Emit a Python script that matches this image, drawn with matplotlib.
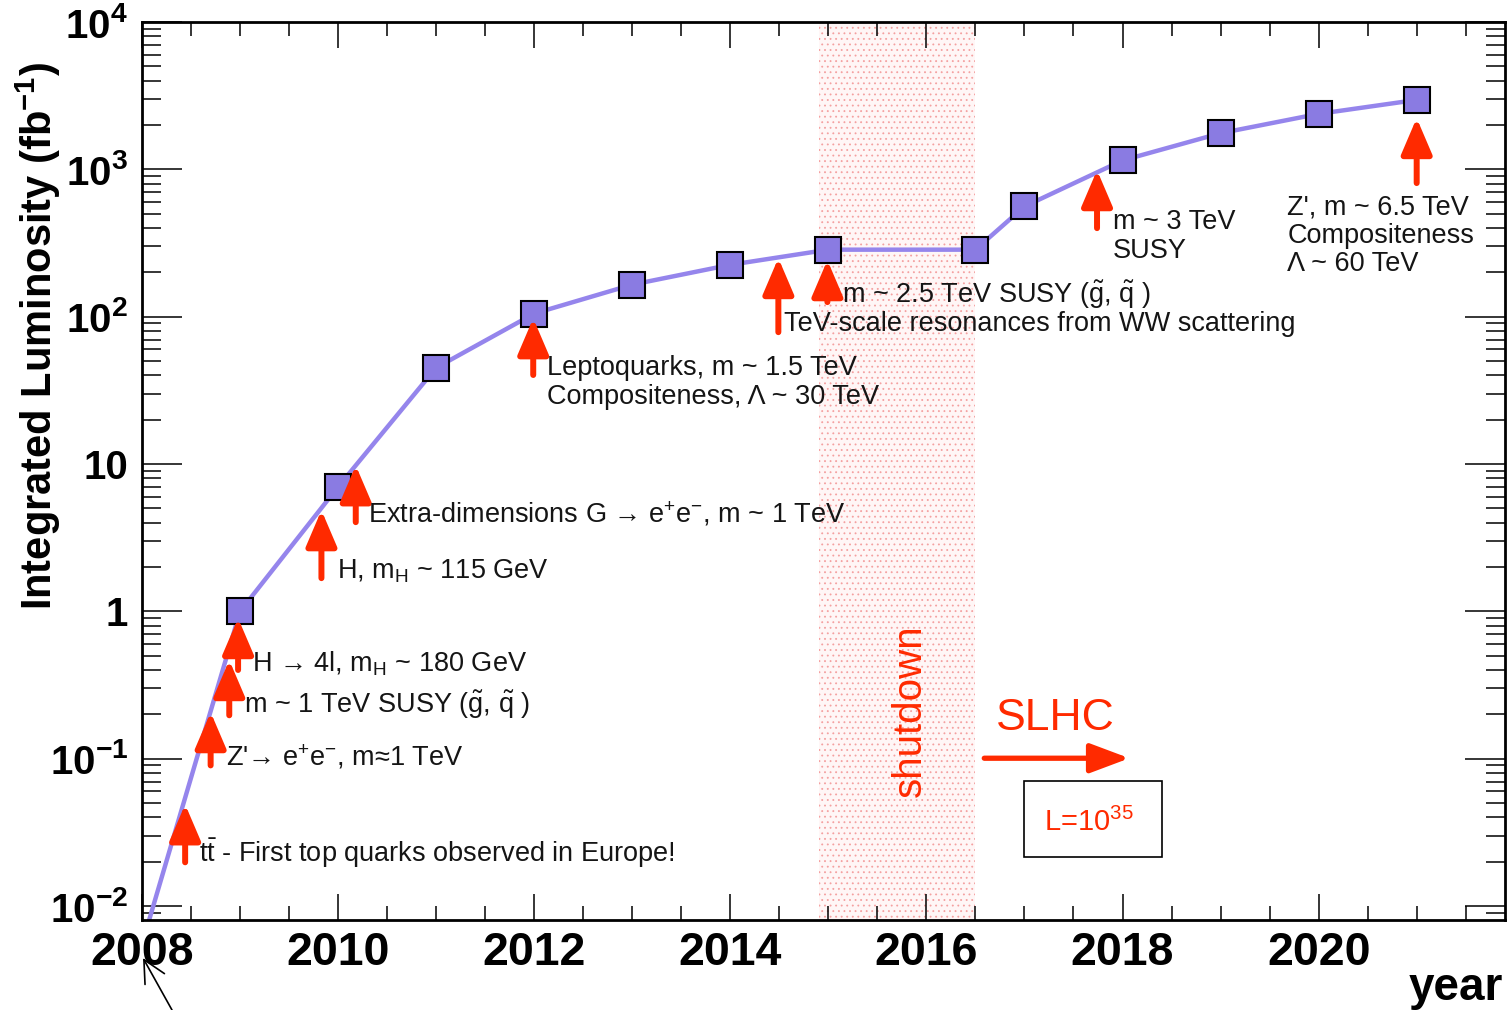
import numpy as np
import matplotlib
matplotlib.use("Agg")
import matplotlib.pyplot as plt
from matplotlib.patches import Rectangle
from matplotlib.ticker import MultipleLocator, LogLocator, NullFormatter

plt.rcParams['font.family'] = ['Liberation Sans', 'DejaVu Sans']
plt.rcParams['mathtext.fontset'] = 'custom'
plt.rcParams['mathtext.rm'] = 'Liberation Sans'
plt.rcParams['mathtext.it'] = 'Liberation Sans:italic'
plt.rcParams['mathtext.bf'] = 'Liberation Sans:bold'
plt.rcParams['mathtext.default'] = 'rm'
plt.rcParams['hatch.linewidth'] = 0.6
plt.rcParams['hatch.color'] = '#f4a0a0'

# luminosity projection
years = [2008.0, 2009, 2010, 2011, 2012, 2013, 2014, 2015, 2016.5, 2017, 2018, 2019, 2020, 2021]
lumi = [0.0055, 1.0, 7.0, 45, 105, 165, 225, 285, 285, 560, 1150, 1760, 2380, 2960]
has_marker = [False] + [True] * 13

shutdown = (2014.9, 2016.5)

# red arrows: x position, tip value, tail value
arrow_x = [2008.44, 2008.70, 2008.89, 2008.98, 2009.83, 2010.18, 2011.99, 2014.49, 2014.99, 2017.74, 2021.0]
arrow_tip = [0.049, 0.207, 0.467, 0.90, 4.86, 9.8, 97.6, 250, 242, 988, 2230]
arrow_tail = [0.0198, 0.090, 0.197, 0.40, 1.68, 4.03, 40.2, 78.5, 125.6, 399, 807]

# physics reach labels: x, baseline value, text
note_x = [2008.58, 2008.86, 2009.04, 2009.12, 2009.99, 2010.31,
          2012.13, 2012.13, 2014.55, 2015.14, 2017.90, 2017.90,
          2019.68, 2019.68, 2019.68]
note_y = [0.0198, 0.0904, 0.2036, 0.393, 1.68, 4.03,
          40.2, 25.5, 79.8, 123.6, 393, 250,
          490, 316, 204]
note_text = [
    r't$\bar{\mathrm{t}}$ - First top quarks observed in Europe!',
    r"Z'→ e$^{+}$e$^{-}$, m≈1 TeV",
    r'm ~ 1 TeV SUSY ($\tilde{\mathrm{g}}$, $\tilde{\mathrm{q}}$ )',
    r'H → 4l, m$_{\mathrm{H}}$ ~ 180 GeV',
    r'H, m$_{\mathrm{H}}$ ~ 115 GeV',
    r'Extra-dimensions G → e$^{+}$e$^{-}$, m ~ 1 TeV',
    'Leptoquarks, m ~ 1.5 TeV',
    'Compositeness, Λ ~ 30 TeV',
    'TeV-scale resonances from WW scattering',
    r'm ~ 2.5 TeV SUSY ($\tilde{\mathrm{g}}$, $\tilde{\mathrm{q}}$ )',
    'm ~ 3 TeV',
    'SUSY',
    "Z', m ~ 6.5 TeV",
    'Compositeness',
    'Λ ~ 60 TeV',
]

ytick_vals = [1e-2, 1e-1, 1, 10, 1e2, 1e3, 1e4]
ytick_labels = [r'$\mathbf{10^{-2}}$', r'$\mathbf{10^{-1}}$', '1', '10',
                r'$\mathbf{10^{2}}$', r'$\mathbf{10^{3}}$', r'$\mathbf{10^{4}}$']
xtick_vals = [2008, 2010, 2012, 2014, 2016, 2018, 2020]

red = '#ff2a00'
line_col = '#9585ec'
face_col = '#8a7be2'

fig = plt.figure(figsize=(15.09, 10.10), dpi=100)
ax = fig.add_axes([0.0941, 0.0891, 0.9032, 0.8891])
ax.set_yscale('log')
ax.set_xlim(2008, 2021.9)
ax.set_ylim(10 ** -2.095, 1e4)

ax.axvspan(shutdown[0], shutdown[1], facecolor='#fff6f6', edgecolor='#f4a0a0',
           hatch='...', linewidth=0, zorder=0)

ax.plot(years, lumi, color=line_col, lw=3.2, zorder=2)
mx = [x for x, m in zip(years, has_marker) if m]
my = [y for y, m in zip(lumi, has_marker) if m]
ax.plot(mx, my, 's', ms=18.5, mfc=face_col, mec='black', mew=1.5, zorder=3)

for x, tip, tail in zip(arrow_x, arrow_tip, arrow_tail):
    ax.annotate('', xy=(x, tip), xytext=(x, tail),
                arrowprops=dict(arrowstyle='-|>,head_length=1.1,head_width=0.47',
                                color=red, lw=4.3, shrinkA=0, shrinkB=0,
                                mutation_scale=20), zorder=4)

for x, y, t in zip(note_x, note_y, note_text):
    ax.text(x, y, t, fontsize=19.5, color='#151515', va='baseline', ha='left', zorder=5)

ax.text(2015.83, 0.213, 'shutdown', rotation=90, color=red, fontsize=29,
        ha='center', va='center', zorder=5)
ax.text(2017.31, 0.188, 'SLHC', color=red, fontsize=32, ha='center', va='center')
ax.annotate('', xy=(2018.07, 0.1007), xytext=(2016.59, 0.1007),
            arrowprops=dict(arrowstyle='-|>,head_length=1.2,head_width=0.45',
                            color=red, lw=3.8, shrinkA=0, shrinkB=0,
                            mutation_scale=20))

ax.add_patch(Rectangle((2017.0, 0.0214), 1.4, 0.0703 - 0.0214, facecolor='none',
                       edgecolor='black', lw=1.2, zorder=5))
ax.text(2017.66, 0.037, r'L=10$^{35}$', color=red, fontsize=21,
        ha='center', va='center', zorder=6)

# axes styling, ROOT like
for s in ax.spines.values():
    s.set_linewidth(2)
ax.set_xticks(xtick_vals)
ax.set_xticklabels([str(v) for v in xtick_vals], fontsize=33.5, fontweight='bold')
ax.xaxis.set_minor_locator(MultipleLocator(0.5))
ax.set_yticks(ytick_vals)
ax.set_yticklabels(ytick_labels, fontsize=29, fontweight='bold')
ax.yaxis.set_minor_locator(LogLocator(base=10, subs=np.arange(2, 10)))
ax.yaxis.set_minor_formatter(NullFormatter())
ax.tick_params(axis='both', which='both', direction='in', top=True, right=True, width=1.1)
ax.tick_params(axis='x', which='major', length=19, pad=8)
ax.tick_params(axis='x', which='minor', length=10)
ax.tick_params(axis='y', which='major', length=29, pad=10)
ax.tick_params(axis='y', which='minor', length=14)

fig.text(1503 / 1509, 1 - 988 / 1010, 'year', fontsize=33, fontweight='bold',
         ha='right', va='center')
fig.text(38 / 1509, 1 - 62 / 1010, r'Integrated Luminosity (fb$^{\mathbf{-1}}$)',
         fontsize=30, fontweight='bold', rotation=90, ha='center', va='top')

ax.annotate('', xy=(143 / 1509, 1 - 958 / 1010), xycoords='figure fraction',
            xytext=(172 / 1509, 1 - 1010 / 1010), textcoords='figure fraction',
            arrowprops=dict(arrowstyle='->,head_length=0.8,head_width=0.4',
                            color='black', lw=1.2, shrinkA=0, shrinkB=0,
                            mutation_scale=20), annotation_clip=False)

fig.savefig('out.png', dpi=100)
